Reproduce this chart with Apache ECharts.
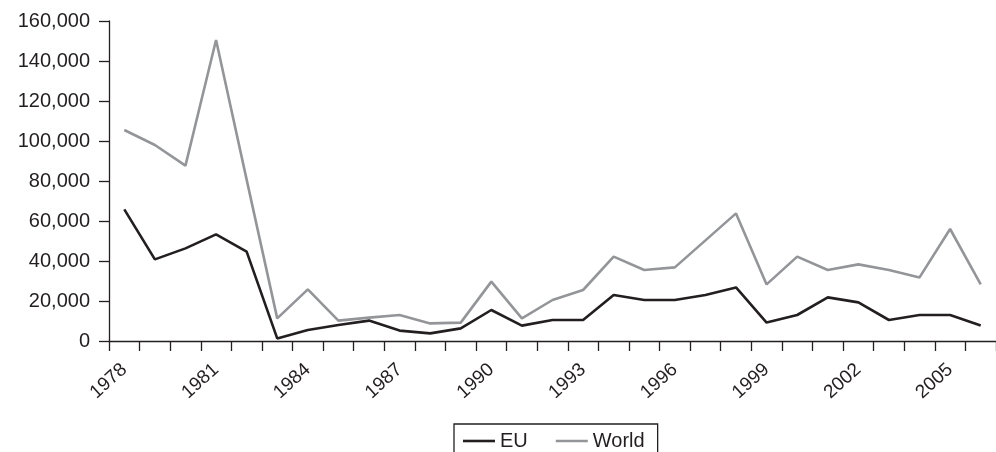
<!DOCTYPE html>
<html>
<head>
<meta charset="utf-8">
<script src="https://cdn.jsdelivr.net/npm/echarts@6/dist/echarts.min.js"></script>
<style>
html,body{margin:0;padding:0;background:#fff;}
#c{width:996px;height:452px;}
</style>
</head>
<body>
<div id="c"></div>
<script>
var years = ['1978','1979','1980','1981','1982','1983','1984','1985','1986','1987','1988','1989','1990','1991','1992','1993','1994','1995','1996','1997','1998','1999','2000','2001','2002','2003','2004','2005','2006'];
var euValues = [65800,40800,46300,53300,44700,1300,5500,8000,10200,5200,3800,6300,15500,7700,10500,10500,23000,20500,20500,23000,26800,9200,13000,21800,19300,10500,13000,13000,7700];
var worldValues = [105500,98000,87700,150500,80700,11300,25800,10200,11700,13000,8800,9200,29700,11300,20500,25500,42200,35500,36800,50300,63800,28300,42200,35500,38300,35500,31800,56000,28300];
var yTicks = {min:0, max:160000, interval:20000};

var textColor = '#231f20';
var font = 'Liberation Sans';
var chart = echarts.init(document.getElementById('c'), null, {renderer:'canvas'});
chart.setOption({
  animation:false,
  backgroundColor:'#ffffff',
  grid:{left:109, right:-6, top:21, bottom:111, containLabel:false},
  xAxis:{
    type:'category',
    data:years,
    boundaryGap:true,
    axisLine:{show:true, lineStyle:{color:textColor, width:1.3}},
    axisTick:{show:true, interval:0, length:10, lineStyle:{color:textColor, width:1.3}},
    axisLabel:{interval:2, rotate:42, margin:26, color:textColor, fontFamily:font, fontSize:19},
    splitLine:{show:false}
  },
  yAxis:{
    type:'value',
    min:yTicks.min, max:yTicks.max, interval:yTicks.interval,
    axisLine:{show:true, lineStyle:{color:textColor, width:1.3}},
    axisTick:{show:true, length:10, lineStyle:{color:textColor, width:1.3}},
    axisLabel:{margin:19, color:textColor, fontFamily:font, fontSize:20,
      formatter:function(v){return v.toLocaleString('en-US');}},
    splitLine:{show:false}
  },
  legend:{
    left:454, top:424,
    orient:'horizontal',
    icon:'rect',
    itemWidth:32, itemHeight:2.6, itemGap:28,
    padding:[7,13,7,9],
    borderColor:textColor, borderWidth:1.3,
    textStyle:{color:textColor, fontFamily:font, fontSize:20},
    data:['EU','World']
  },
  series:[
    {name:'EU', type:'line', data:euValues, symbol:'none', showSymbol:false,
     lineStyle:{color:textColor, width:2.6}, itemStyle:{color:textColor}},
    {name:'World', type:'line', data:worldValues, symbol:'none', showSymbol:false,
     lineStyle:{color:'#939598', width:2.6}, itemStyle:{color:'#939598'}}
  ]
});
</script>
</body>
</html>
